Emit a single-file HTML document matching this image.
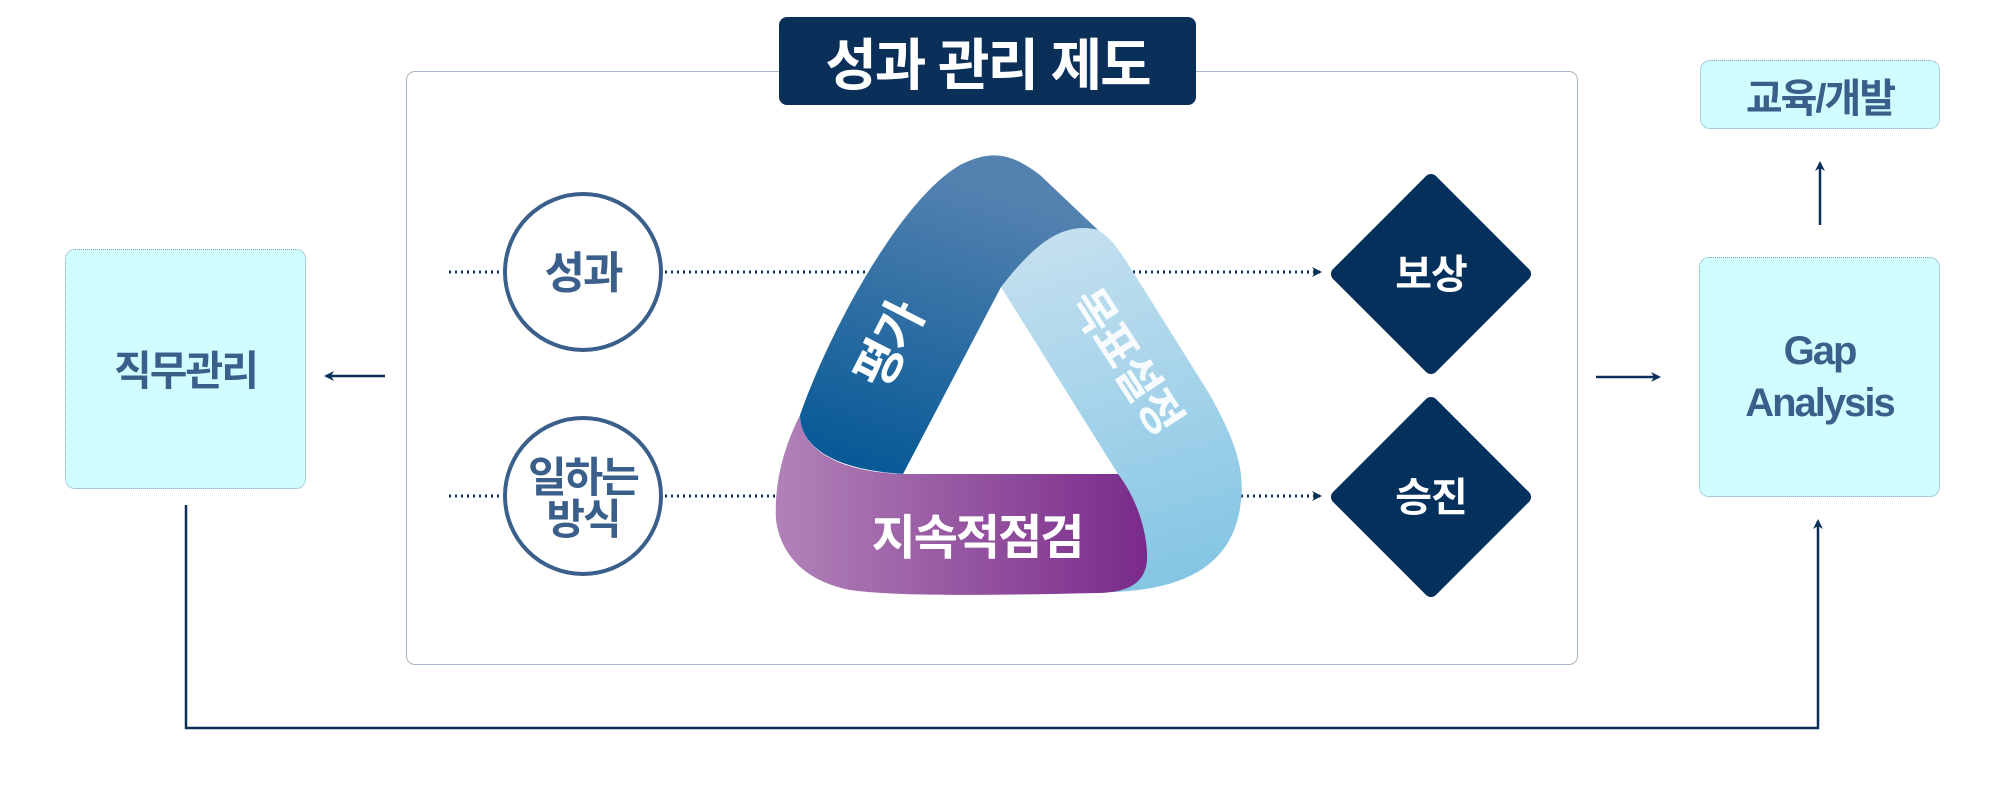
<!DOCTYPE html>
<html><head><meta charset="utf-8"><style>
html,body{margin:0;padding:0;background:#fff;}
body{width:2000px;height:800px;position:relative;overflow:hidden;font-family:"Liberation Sans","Noto Sans CJK KR",sans-serif;}
.box{position:absolute;background:#d0fdff;border:1px dotted #7f9fb5;border-radius:10px;display:flex;align-items:center;justify-content:center;text-align:center;color:#3a5f8a;font-weight:bold;box-sizing:border-box;}
</style></head><body>
<div style="position:absolute;left:406px;top:71px;width:1172px;height:594px;border:1px solid #a8b8c8;border-radius:9px;box-sizing:border-box;"></div>
<div style="position:absolute;left:779px;top:17px;width:417px;height:88px;background:#0a3059;border-radius:8px;color:#fff;font-weight:bold;font-size:56px;display:flex;align-items:center;justify-content:center;letter-spacing:-2px;">성과 관리 제도</div>
<div class="box" style="left:65px;top:249px;width:241px;height:240px;font-size:41px;letter-spacing:-2px;padding-bottom:4px;">직무관리</div>
<div class="box" style="left:1699px;top:257px;width:241px;height:240px;font-size:40px;line-height:52px;letter-spacing:-2px;">Gap<br>Analysis</div>
<div class="box" style="left:1700px;top:60px;width:240px;height:69px;font-size:40px;letter-spacing:-2px;">교육/개발</div>
<svg width="2000" height="800" style="position:absolute;left:0;top:0">
<defs>
<marker id="ah" markerWidth="10" markerHeight="10" refX="8" refY="5" orient="auto" markerUnits="userSpaceOnUse"><path d="M0,0 L10,5 L0,10 L3,5 Z" fill="#0a3059"/></marker>
<linearGradient id="gb" x1="0" y1="1" x2="0.3" y2="0"><stop offset="0" stop-color="#005694"/><stop offset="1" stop-color="#5482b0"/></linearGradient>
<linearGradient id="gl" x1="0.3" y1="0" x2="0.5" y2="1"><stop offset="0" stop-color="#c4e0ef"/><stop offset="1" stop-color="#85c6e4"/></linearGradient>
<linearGradient id="gp" x1="0" y1="0" x2="1" y2="0"><stop offset="0" stop-color="#b182b8"/><stop offset="1" stop-color="#7a2a8a"/></linearGradient>
</defs>
<g stroke="#0a3059" stroke-width="3" stroke-dasharray="2 4" fill="none">
<line x1="449" y1="272" x2="1320" y2="272" marker-end="url(#ah)"/>
<line x1="449" y1="496" x2="1320" y2="496" marker-end="url(#ah)"/>
</g>
<g stroke="#0a3059" stroke-width="2.5" fill="none">
<line x1="385" y1="376" x2="326" y2="376" marker-end="url(#ah)"/>
<line x1="1596" y1="377" x2="1659" y2="377" marker-end="url(#ah)"/>
<line x1="1820" y1="225" x2="1820" y2="163" marker-end="url(#ah)"/>
<polyline points="186,505 186,728 1818,728 1818,521" marker-end="url(#ah)"/>
</g>
<circle cx="583" cy="272" r="78" fill="#fff" stroke="#3a5f8a" stroke-width="4"/>
<circle cx="583" cy="496" r="78" fill="#fff" stroke="#3a5f8a" stroke-width="4"/>
<g font-weight="bold" fill="#3a5f8a" font-family="Liberation Sans,Noto Sans CJK KR,sans-serif" text-anchor="middle" letter-spacing="-2">
<text x="583" y="288" font-size="44">성과</text>
<text x="583" y="492" font-size="42">일하는</text>
<text x="583" y="534" font-size="42">방식</text>
</g>
<g fill="#04305c" stroke="#04305c" stroke-width="14" stroke-linejoin="round">
<polygon points="1431,181 1524,274 1431,367 1338,274"/>
<polygon points="1431,404 1524,497 1431,590 1338,497"/>
</g>
<text x="1431" y="288" text-anchor="middle" font-size="40" font-weight="bold" fill="#fff" font-family="Liberation Sans,Noto Sans CJK KR,sans-serif" letter-spacing="-1">보상</text>
<text x="1431" y="511" text-anchor="middle" font-size="40" font-weight="bold" fill="#fff" font-family="Liberation Sans,Noto Sans CJK KR,sans-serif" letter-spacing="-1">승진</text>
<path d="M1001,287 C1030,245 1065,220 1098,230 C1115,240 1125,260 1140,283 L1210,395 C1235,440 1245,470 1241,500 C1235,565 1185,590 1110,592 L1118,474 Z" fill="url(#gl)"/>
<path d="M800,415 C830,330 900,200 960,165 C990,150 1010,152 1040,175 L1098,230 C1060,220 1030,250 1001,287 L903,474 C840,470 800,450 800,415 Z" fill="url(#gb)"/>
<path d="M800,415 C800,450 840,472 903,474 L1118,474 C1138,500 1148,535 1147,560 C1145,588 1120,592 1100,593 C1000,595 900,597 850,590 C800,580 780,550 776,520 C774,480 785,445 800,415 Z" fill="url(#gp)"/>
<text x="0" y="0" transform="translate(893,347) rotate(-63)" text-anchor="middle" dominant-baseline="middle" font-size="50" font-weight="bold" fill="#fff" font-family="Liberation Sans,Noto Sans CJK KR,sans-serif" letter-spacing="-2">평가</text>
<text x="0" y="0" transform="translate(1123,363) rotate(57)" text-anchor="middle" dominant-baseline="middle" font-size="46" font-weight="bold" fill="#fff" fill-opacity="0.9" font-family="Liberation Sans,Noto Sans CJK KR,sans-serif" letter-spacing="-2">목표설정</text>
<text x="977" y="554" text-anchor="middle" font-size="48" font-weight="bold" fill="#fff" font-family="Liberation Sans,Noto Sans CJK KR,sans-serif" letter-spacing="-2">지속적점검</text>
</svg>
</body></html>
